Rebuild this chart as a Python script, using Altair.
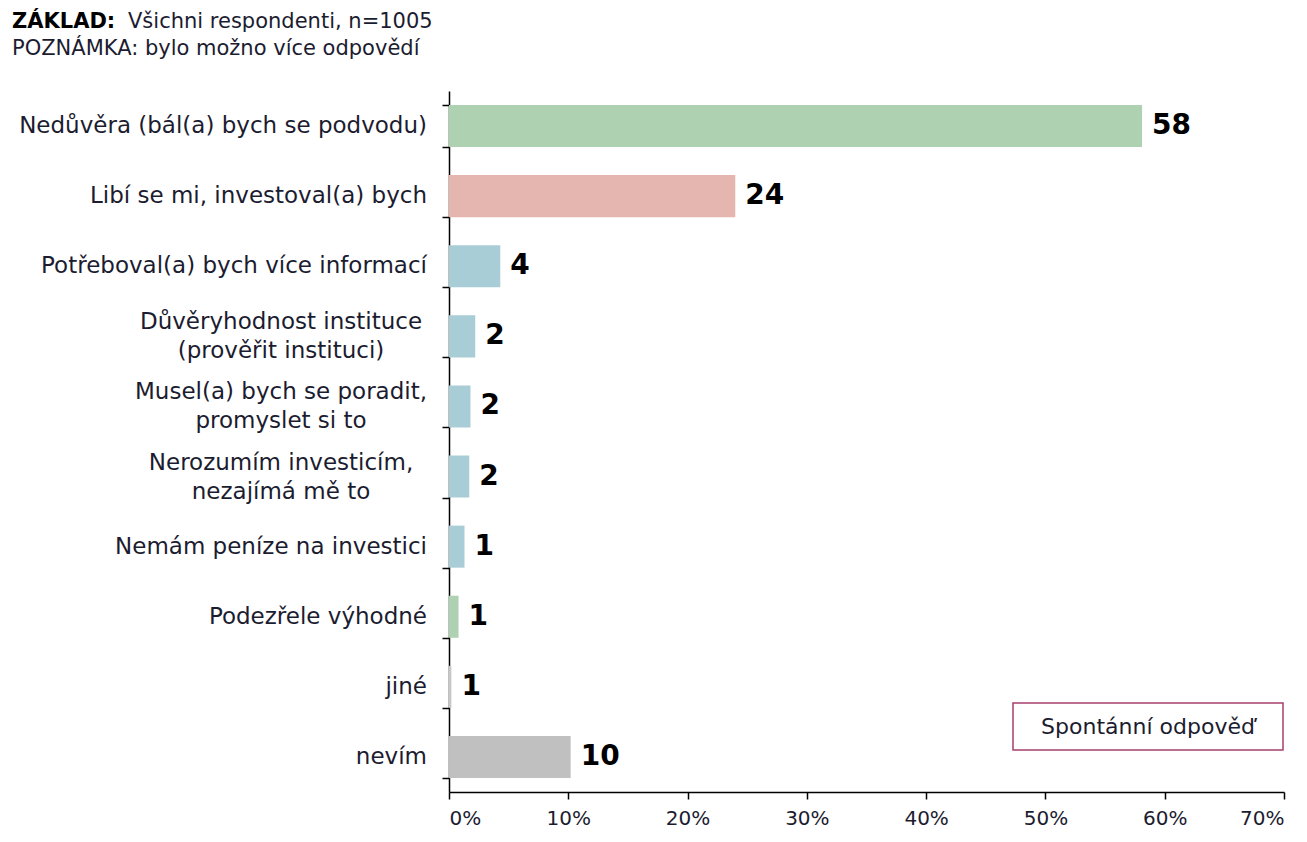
import altair as alt
import pandas as pd

categories = [
    "Nedůvěra (bál(a) bych se podvodu)",
    "Libí se mi, investoval(a) bych",
    "Potřeboval(a) bych více informací",
    "Důvěryhodnost instituce|(prověřit instituci)",
    "Musel(a) bych se poradit,|promyslet si to",
    "Nerozumím investicím,|nezajímá mě to",
    "Nemám peníze na investici",
    "Podezřele výhodné",
    "jiné",
    "nevím",
]
values = [58.1, 24.0, 4.3, 2.2, 1.8, 1.7, 1.3, 0.8, 0.2, 10.2]
value_labels = ["58", "24", "4", "2", "2", "2", "1", "1", "1", "10"]
colors = ["#aed1b1", "#e5b5b0", "#a9cdd6", "#a9cdd6", "#a9cdd6", "#a9cdd6",
          "#a9cdd6", "#aed1b1", "#c8c8c8", "#c0c0c0"]
x_ticks = [0, 10, 20, 30, 40, 50, 60, 70]

df = pd.DataFrame({
    "cat": categories,
    "value": values,
    "label": value_labels,
    "multi": ["|" in c for c in categories],
})

FONT = "DejaVu Sans"
TXT = "#1c1c30"

y_enc = alt.Y("cat:N", sort=categories,
              scale=alt.Scale(paddingInner=0.4, paddingOuter=0.2),
              axis=alt.Axis(labels=False, title=None, domainColor="black",
                            tickColor="black", tickSize=7, tickBand="extent",
                            domainWidth=1.5, tickWidth=1.5))
x_enc = alt.X("value:Q", scale=alt.Scale(domain=[0, 70], nice=False),
              axis=alt.Axis(values=x_ticks, title=None, grid=False,
                            labelExpr="datum.value + '%'", domainColor="black",
                            tickColor="black", tickSize=7, labelFont=FONT,
                            labelFontSize=20, labelColor=TXT, labelPadding=9,
                            domainWidth=1.5, tickWidth=1.5))

base = alt.Chart(df)

bars = base.mark_bar().encode(
    x=x_enc, y=y_enc,
    color=alt.Color("cat:N", scale=alt.Scale(domain=categories, range=colors), legend=None),
)

vals = base.mark_text(align="left", baseline="middle", dx=10, font=FONT,
                      fontWeight="bold", fontSize=28, color="black").encode(
    x="value:Q", y=alt.Y("cat:N", sort=categories), text="label:N")

single = base.transform_filter("!datum.multi").mark_text(
    align="right", baseline="middle", font=FONT, fontSize=23, color=TXT).encode(
    x=alt.value(-22), y=alt.Y("cat:N", sort=categories), text="cat:N")

multi = base.transform_filter("datum.multi").transform_calculate(
    lines="split(datum.cat, '|')").mark_text(
    align="center", baseline="middle", font=FONT, fontSize=23, color=TXT,
    lineHeight=29, dy=-14).encode(
    x=alt.value(-168), y=alt.Y("cat:N", sort=categories), text="lines:N")

one = pd.DataFrame({"a": [0]})
t1 = alt.Chart(one).mark_text(align="left", baseline="middle", font=FONT,
                              fontSize=21, fontWeight="bold", color="black").encode(
    x=alt.value(-437), y=alt.value(-69), text=alt.value("ZÁKLAD:"))
t2 = alt.Chart(one).mark_text(align="left", baseline="middle", font=FONT,
                              fontSize=21, color=TXT).encode(
    x=alt.value(-321), y=alt.value(-69), text=alt.value("Všichni respondenti, n=1005"))
t3 = alt.Chart(one).mark_text(align="left", baseline="middle", font=FONT,
                              fontSize=21, color=TXT).encode(
    x=alt.value(-437), y=alt.value(-42), text=alt.value("POZNÁMKA: bylo možno více odpovědí"))

box = alt.Chart(one).mark_rect(fill="white", stroke="#a8406e", strokeWidth=1.5).encode(
    x=alt.value(564), x2=alt.value(834), y=alt.value(612), y2=alt.value(659))
box_t = alt.Chart(one).mark_text(align="center", baseline="middle", font=FONT,
                                 fontSize=22, color=TXT).encode(
    x=alt.value(699), y=alt.value(636), text=alt.value("Spontánní odpověď"))

chart = alt.layer(bars, vals, single, multi, t1, t2, t3, box, box_t).properties(
    width=835, height=701,
    padding={"left": 441, "top": 83, "right": 15, "bottom": 42},
    autosize=alt.AutoSizeParams(type="none"),
    background="white",
).configure_view(stroke=None)

chart.save("out.html", embed_options={"renderer": "svg", "actions": False})
